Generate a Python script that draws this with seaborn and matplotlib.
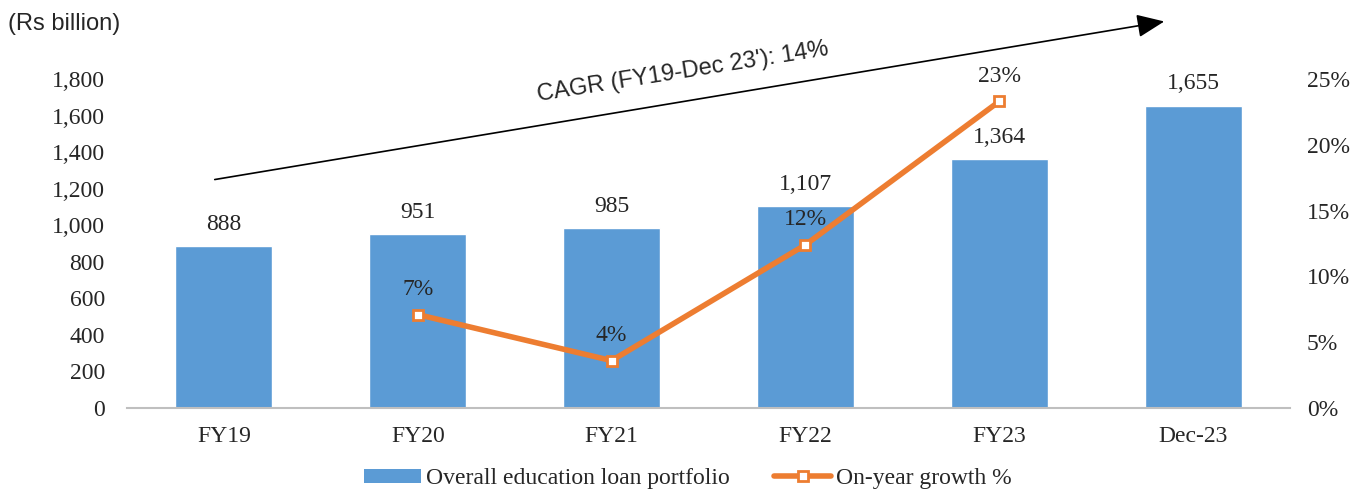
import numpy as np
import pandas as pd
import matplotlib
matplotlib.use("Agg")
import matplotlib.pyplot as plt
from matplotlib.lines import Line2D
from matplotlib.patches import Patch, FancyArrowPatch
import seaborn as sns

periods = ["FY19", "FY20", "FY21", "FY22", "FY23", "Dec-23"]
portfolio = [888, 951, 985, 1107, 1364, 1655]
growth_pct = [np.nan, 7.1, 3.6, 12.4, 23.3, np.nan]
left_ticks = [0, 200, 400, 600, 800, 1000, 1200, 1400, 1600, 1800]
right_ticks = [0, 5, 10, 15, 20, 25]
cagr_text = "CAGR (FY19-Dec 23'): 14%"

BAR_BLUE = "#5B9BD5"
LINE_ORANGE = "#ED7D31"
SERIF = "Liberation Serif"
SANS = "Liberation Sans"
FS = 17

sns.set_theme(style="white")
plt.rcParams["font.family"] = [SERIF, "DejaVu Serif"]

fig = plt.figure(figsize=(13.54, 4.93), dpi=100)
ax = fig.add_axes([127 / 1354, 1 - 408 / 493, 1163 / 1354, 329 / 493])

df = pd.DataFrame({"period": periods, "portfolio": portfolio})
sns.barplot(data=df, x="period", y="portfolio", color=BAR_BLUE, width=0.5,
            saturation=1, ax=ax)
ax.set_xlim(-0.5, len(periods) - 0.5)
ax.set_ylim(0, 1800)
ax.set_yticks(left_ticks)
ax.set_yticklabels([f"{v:,}" for v in left_ticks], fontsize=FS)
ax.set_xlabel("")
ax.set_ylabel("")
ax.tick_params(axis="x", labelsize=FS, length=0, pad=13)
ax.tick_params(axis="y", length=0, pad=16)
for s in ["left", "right", "top"]:
    ax.spines[s].set_visible(False)
ax.spines["bottom"].set_color("#BFBFBF")
ax.spines["bottom"].set_linewidth(1.5)

for i, v in enumerate(portfolio):
    ax.annotate(f"{v:,}", (i, v), xytext=(0, 8), textcoords="offset points",
                ha="center", va="bottom", fontsize=FS)

ax2 = ax.twinx()
xpos = np.arange(len(periods))
ax2.plot(xpos, growth_pct, color=LINE_ORANGE, lw=4, marker="s", ms=7.5,
         mfc="white", mec=LINE_ORANGE, mew=2, zorder=3)
ax2.set_ylim(0, 25)
ax2.set_yticks(right_ticks)
ax2.set_yticklabels([f"{v}%" for v in right_ticks], fontsize=FS)
ax2.tick_params(axis="y", length=0, pad=12)
for s in ["left", "right", "top", "bottom"]:
    ax2.spines[s].set_visible(False)
for i, g in enumerate(growth_pct):
    if not np.isnan(g):
        ax2.annotate(f"{g:.0f}%", (i, g), xytext=(0, 10.5), textcoords="offset points",
                     ha="center", va="bottom", fontsize=FS)

# Growth trend arrow with CAGR label
fig.add_artist(FancyArrowPatch(
    (212 / 1354, 1 - 180 / 493), (1167 / 1354, 1 - 21 / 493),
    transform=fig.transFigure, arrowstyle="-|>,head_length=1.3,head_width=0.55",
    mutation_scale=13, lw=1.2, color="black"))
fig.text(683 / 1354, 1 - 72 / 493, cagr_text, rotation=9.0, ha="center",
         va="center", fontsize=FS, family=[SANS, "DejaVu Sans"],
         rotation_mode="anchor")

fig.text(8 / 1354, 1 - 24 / 493, "(Rs billion)", ha="left", va="center",
         fontsize=FS, family=[SANS, "DejaVu Sans"])

handles = [
    Patch(facecolor=BAR_BLUE, edgecolor="none"),
    Line2D([0], [0], color=LINE_ORANGE, lw=4, marker="s", ms=7.5,
           mfc="white", mec=LINE_ORANGE, mew=2),
]
fig.legend(handles, ["Overall education loan portfolio", "On-year growth %"],
           loc="lower center", bbox_to_anchor=(0.508, -0.035), ncol=2,
           frameon=False, fontsize=FS, handlelength=2.4, handleheight=0.55,
           columnspacing=1.9, handletextpad=0.2)

fig.savefig("out.png", dpi=100)
